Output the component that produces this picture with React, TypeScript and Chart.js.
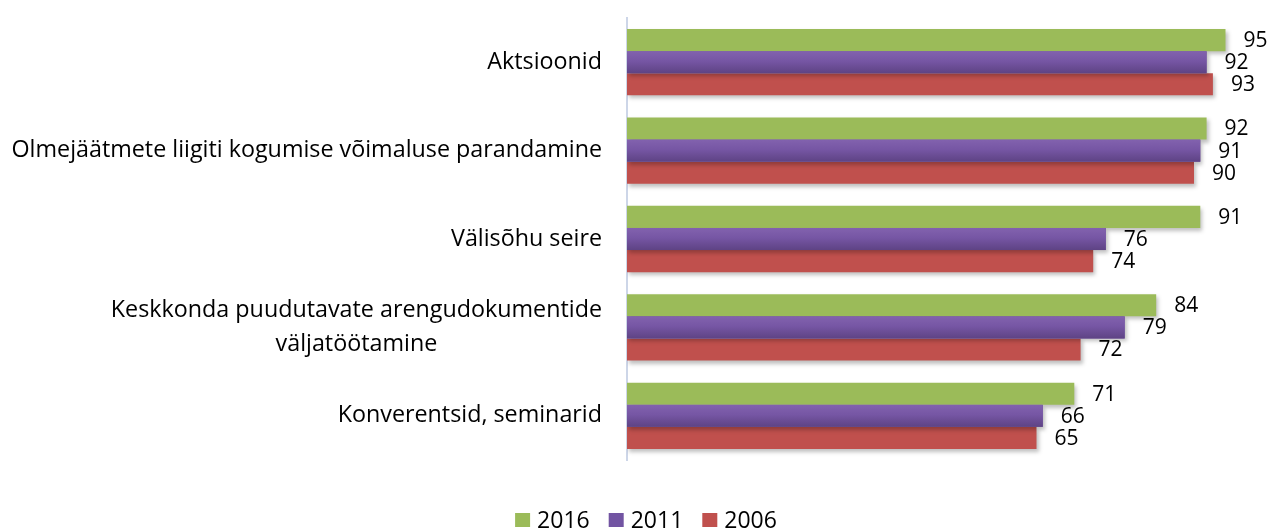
import React, { useEffect, useRef } from "react";
import { Chart, registerables } from "chart.js";

Chart.register(...registerables);

const categories: string[][] = [
  ["Aktsioonid"],
  ["Olmejäätmete liigiti kogumise võimaluse parandamine"],
  ["Välisõhu seire"],
  ["Keskkonda puudutavate arengudokumentide", "väljatöötamine"],
  ["Konverentsid, seminarid"],
];
const seriesNames = ["2016", "2011", "2006"];
const values2016 = [95, 92, 91, 84, 71];
const values2011 = [92, 91, 76, 79, 66];
const values2006 = [93, 90, 74, 72, 65];
const seriesColors = ["#9bbb59", "#7254a2", "#c0504d"];

const FONT = "'Open Sans', sans-serif";

const customPlugin = {
  id: "customDraw",
  beforeDatasetDraw(chart: any) {
    const ctx = chart.ctx;
    ctx.save();
    ctx.shadowColor = "rgba(0,0,0,0.25)";
    ctx.shadowBlur = 4;
    ctx.shadowOffsetX = 2;
    ctx.shadowOffsetY = 3;
  },
  afterDatasetDraw(chart: any) {
    chart.ctx.restore();
  },
  afterDatasetsDraw(chart: any) {
    const ctx = chart.ctx;
    // gradient shading on the purple series
    const meta1 = chart.getDatasetMeta(1);
    meta1.data.forEach((bar: any) => {
      const { x, y, base, height } = bar.getProps(["x", "y", "base", "height"], true);
      const top = y - height / 2;
      const g = ctx.createLinearGradient(0, top, 0, top + height);
      g.addColorStop(0, "#8262ae");
      g.addColorStop(0.45, "#7656a4");
      g.addColorStop(1, "#5e4384");
      ctx.save();
      ctx.fillStyle = g;
      ctx.fillRect(base, top, x - base, height);
      ctx.restore();
    });
    // data labels
    ctx.save();
    ctx.font = `21px ${FONT}`;
    ctx.fillStyle = "#000";
    ctx.textAlign = "left";
    ctx.textBaseline = "middle";
    chart.data.datasets.forEach((ds: any, di: number) => {
      const meta = chart.getDatasetMeta(di);
      meta.data.forEach((bar: any, i: number) => {
        ctx.fillText(String(ds.data[i]), bar.x + 18, bar.y + 1);
      });
    });
    ctx.restore();
  },
  afterDraw(chart: any) {
    const ctx = chart.ctx;
    const yScale = chart.scales.y;
    // category labels
    ctx.save();
    ctx.font = `23.3px ${FONT}`;
    ctx.fillStyle = "#000";
    ctx.textBaseline = "middle";
    ctx.textAlign = "center";
    const right = chart.chartArea.left - 25;
    const lh = 34;
    categories.forEach((lines, i) => {
      const cy = yScale.getPixelForValue(i);
      const bw = Math.max(...lines.map((l) => ctx.measureText(l).width));
      const cx = right - bw / 2;
      lines.forEach((l, j) => {
        ctx.fillText(l, cx, cy + (j - (lines.length - 1) / 2) * lh);
      });
    });
    ctx.restore();

    // legend
    ctx.save();
    ctx.font = `23px ${FONT}`;
    ctx.textBaseline = "middle";
    ctx.textAlign = "left";
    const boxW = 15;
    const boxH = 14;
    const gap = 7;
    const spacing = 19;
    const widths = seriesNames.map((n) => boxW + gap + ctx.measureText(n).width);
    const total = widths.reduce((a, b) => a + b, 0) + spacing * (seriesNames.length - 1);
    let x = 646 - total / 2;
    const cy = 520;
    seriesNames.forEach((n, i) => {
      ctx.fillStyle = seriesColors[i];
      ctx.fillRect(x, cy - boxH / 2, boxW, boxH);
      ctx.fillStyle = "#000";
      ctx.fillText(n, x + boxW + gap, cy + 1);
      x += widths[i] + spacing;
    });
    ctx.restore();
  },
};

export default function App() {
  const ref = useRef<HTMLCanvasElement | null>(null);
  useEffect(() => {
    if (!ref.current) return;
    const chart = new Chart(ref.current, {
      type: "bar",
      data: {
        labels: categories.map((c) => c.join(" ")),
        datasets: [values2016, values2011, values2006].map((vals, i) => ({
          label: seriesNames[i],
          data: vals,
          backgroundColor: seriesColors[i],
          borderWidth: 0,
          categoryPercentage: 0.75,
          barPercentage: 1,
        })),
      },
      options: {
        indexAxis: "y",
        animation: false,
        responsive: false,
        layout: { padding: { top: 18, bottom: 72, right: 28, left: 0 } },
        plugins: { legend: { display: false }, tooltip: { enabled: false } },
        scales: {
          x: { display: false, min: 0, max: 100 },
          y: {
            ticks: { display: false },
            grid: { display: false },
            border: { display: true, color: "#cdd6e8", width: 2 },
            afterFit: (s: any) => {
              s.width = 627;
            },
          },
        },
      },
      plugins: [customPlugin],
    } as any);
    return () => chart.destroy();
  }, []);
  return (
    <div style={{ position: "fixed", left: 0, top: 0, width: 1285, height: 532, background: "#fff" }}>
      <canvas ref={ref} width={1285} height={532} />
    </div>
  );
}
